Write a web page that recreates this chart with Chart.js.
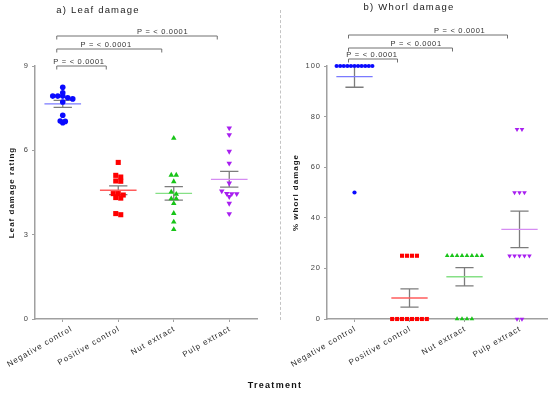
<!DOCTYPE html>
<html>
<head>
<meta charset="utf-8">
<script src="https://cdn.jsdelivr.net/npm/chart.js@4.4.1/dist/chart.umd.min.js"></script>
<style>
  body { margin: 0; background: #fff; }
  #wrap { position: relative; width: 550px; height: 394px; font-family: "Liberation Sans", Arial, sans-serif; }
  #leaf { position: absolute; left: 0; top: 0; }
  #whorl { position: absolute; left: 280px; top: 0; }
  #sep { position: absolute; left: 280px; top: 10px; height: 310px; border-left: 1px dashed #c4c4c4; }
  #xtitle { position: absolute; left: 0; top: 380px; width: 550px; text-align: center; font-size: 9px; line-height: 10px;
            font-weight: bold; letter-spacing: 1.3px; color: #111; }
</style>
</head>
<body>
<div id="wrap">
  <div id="sep"></div>
  <canvas id="leaf" width="275" height="394"></canvas>
  <canvas id="whorl" width="270" height="394"></canvas>
  <div id="xtitle">Treatment</div>
</div>
<script>
// valeurs
const categories = ['Negative control', 'Positive control', 'Nut extract', 'Pulp extract'];

const leafNegative = [8.24, 8.05, 7.93, 7.93, 7.93, 7.87, 7.83, 7.72, 7.25, 7.04, 7.03, 6.98];
const leafPositive = [5.57, 5.11, 5.05, 4.91, 4.90, 4.46, 4.46, 4.41, 4.32, 4.30, 3.75, 3.71];
const leafNut = [6.43, 5.12, 5.12, 4.89, 4.52, 4.44, 4.28, 4.28, 4.11, 3.76, 3.45, 3.19];
const leafPulp = [6.79, 6.55, 5.96, 5.54, 4.83, 4.55, 4.46, 4.45, 4.45, 4.35, 4.11, 3.74];
const leafMean = [7.65, 4.58, 4.47, 4.97];
const leafSem = [0.125, 0.155, 0.24, 0.28];
const leafTicks = [0, 3, 6, 9];

const whorlNegative = [100, 100, 100, 100, 100, 100, 100, 100, 100, 100, 100, 50];
const whorlPositive = [25, 25, 25, 25, 0, 0, 0, 0, 0, 0, 0, 0];
const whorlNut = [25, 25, 25, 25, 25, 25, 25, 25, 0, 0, 0, 0];
const whorlPulp = [75, 75, 50, 50, 50, 25, 25, 25, 25, 25, 0, 0];
const whorlMean = [95.8, 8.3, 16.7, 35.4];
const whorlSem = [4.2, 3.6, 3.6, 7.2];
const whorlTicks = [0, 20, 40, 60, 80, 100];

// comparaisons : témoin négatif contre chaque autre groupe
const comparisons = [[0, 1], [0, 2], [0, 3]];
const pLabels = ['P = < 0.0001', 'P = < 0.0001', 'P = < 0.0001'];

const pointColors = ['#0a0aff', '#ff0000', '#18c418', '#a81ff0'];
const meanColors = ['#7a7aff', '#ff5c5c', '#86e086', '#d58cf2'];

// nuage de points en colonnes (façon Prism) : points d'une même tranche étalés horizontalement
function swarm(values, center, bin, step, maxWidth) {
    const groups = {};
    values.forEach(v => {
        const k = Math.floor(v / bin + 1e-9);
        (groups[k] = groups[k] || []).push(v);
    });
    const pts = [];
    Object.values(groups).forEach(g => {
        const s = g.length > 1 ? Math.min(step, maxWidth / (g.length - 1)) : 0;
        g.forEach((v, i) => pts.push({ x: center + (i - (g.length - 1) / 2) * s, y: v }));
    });
    return pts;
}

const spacing = {
    id: 'spacing',
    beforeLayout(chart) { chart.ctx.letterSpacing = '1px'; },
    beforeDraw(chart) { chart.ctx.letterSpacing = '1px'; }
};

// décale la première étiquette de l'axe x pour qu'elle reste dans le cadre
const firstLabelShift = {
    id: 'firstLabelShift',
    beforeDraw(chart, args, o) {
        const items = chart.scales.x.getLabelItems(chart.chartArea);
        if (items.length && !items[0].shifted) {
            items[0].options.translation[0] += o.dx;
            items[0].shifted = true;
        }
    }
};

// moyenne +/- SEM
const meanSem = {
    id: 'meanSem',
    beforeDatasetsDraw(chart, args, o) {
        const { ctx, scales: { x, y } } = chart;
        ctx.save();
        o.mean.forEach((m, i) => {
            const cx = x.getPixelForValue(i);
            const half = x.getPixelForValue(i + 0.33) - cx;
            const cap = x.getPixelForValue(i + 0.165) - cx;
            const yTop = y.getPixelForValue(m + o.sem[i]);
            const yBot = y.getPixelForValue(m - o.sem[i]);
            ctx.strokeStyle = '#7c7c7c';
            ctx.lineWidth = 1.3;
            ctx.beginPath();
            ctx.moveTo(cx, yTop); ctx.lineTo(cx, yBot);
            ctx.moveTo(cx - cap, yTop); ctx.lineTo(cx + cap, yTop);
            ctx.moveTo(cx - cap, yBot); ctx.lineTo(cx + cap, yBot);
            ctx.stroke();
            const ym = y.getPixelForValue(m);
            ctx.strokeStyle = meanColors[i];
            ctx.lineWidth = 1.3;
            ctx.beginPath();
            ctx.moveTo(cx - half, ym); ctx.lineTo(cx + half, ym);
            ctx.stroke();
        });
        ctx.restore();
    }
};

// crochets de significativité au-dessus du graphique
const brackets = {
    id: 'brackets',
    afterDraw(chart, args, o) {
        const { ctx, chartArea, scales: { x } } = chart;
        ctx.save();
        ctx.letterSpacing = '0.7px';
        ctx.font = '7.5px "Liberation Sans", Arial, sans-serif';
        ctx.textAlign = 'center';
        ctx.textBaseline = 'alphabetic';
        comparisons.forEach(([a, b], k) => {
            const x0 = x.getPixelForValue(a) - 6;
            const x1 = x.getPixelForValue(b) - 12;
            const yy = chartArea.top - o.levels[k];
            ctx.strokeStyle = '#707070';
            ctx.lineWidth = 1;
            ctx.beginPath();
            ctx.moveTo(x0, yy + 3.5); ctx.lineTo(x0, yy); ctx.lineTo(x1, yy); ctx.lineTo(x1, yy + 3.5);
            ctx.stroke();
            ctx.fillStyle = '#333';
            ctx.fillText(pLabels[k], x0 + (x1 - x0) * o.textAt[k], yy - 2);
        });
        ctx.restore();
    }
};

const panelTitle = {
    id: 'panelTitle',
    afterDraw(chart, args, o) {
        const ctx = chart.ctx;
        ctx.save();
        ctx.letterSpacing = '1.2px';
        ctx.font = '9.5px "Liberation Sans", Arial, sans-serif';
        ctx.fillStyle = '#1a1a1a';
        ctx.textAlign = 'center';
        ctx.textBaseline = 'middle';
        ctx.fillText(o.text, o.x, o.y);
        ctx.restore();
    }
};

function makeChart(id, series, mean, sem, cfg) {
    const styles = ['circle', 'rect', 'triangle', 'triangle'];
    const datasets = series.map((vals, i) => ({
        data: swarm(vals, i, cfg.bin, cfg.step, cfg.maxWidth),
        pointStyle: styles[i],
        rotation: i === 3 ? 180 : 0,
        pointRadius: cfg.radius[i],
        pointBackgroundColor: pointColors[i],
        pointBorderColor: pointColors[i],
        pointBorderWidth: 0,
        showLine: false,
        clip: false
    }));
    return new Chart(document.getElementById(id), {
        type: 'scatter',
        data: { datasets },
        plugins: [spacing, firstLabelShift, meanSem, brackets, panelTitle],
        options: {
            responsive: false,
            animation: false,
            layout: { autoPadding: false, padding: { left: 0, top: 66, right: cfg.padRight, bottom: 0 } },
            plugins: {
                legend: { display: false },
                tooltip: { enabled: false },
                firstLabelShift: { dx: cfg.firstShift },
                meanSem: { mean, sem },
                brackets: { levels: cfg.levels, textAt: cfg.textAt },
                panelTitle: cfg.title
            },
            scales: {
                x: {
                    type: 'linear',
                    min: -0.5,
                    max: 3.5,
                    afterBuildTicks: s => { s.ticks = categories.map((c, i) => ({ value: i })); },
                    afterFit: s => { s.height = 75; s.paddingLeft = 0; s.paddingRight = 0; },
                    ticks: {
                        callback: v => categories[v],
                        minRotation: 30,
                        maxRotation: 30,
                        autoSkip: false,
                        padding: 2,
                        labelOffset: 1,
                        color: '#2a2a2a',
                        font: { size: 8, family: '"Liberation Sans", Arial, sans-serif' }
                    },
                    grid: { drawOnChartArea: false, drawTicks: true, tickLength: 3, color: '#a0a0a0' },
                    border: { color: '#a0a0a0', width: 1.5 }
                },
                y: {
                    min: 0,
                    max: cfg.yMax,
                    afterBuildTicks: s => { s.ticks = cfg.yTicks.map(v => ({ value: v })); },
                    afterFit: s => { s.width = cfg.yWidth; s.paddingTop = 0; s.paddingBottom = 0; },
                    ticks: {
                        padding: 3,
                        color: '#444',
                        font: { size: 7.5, family: '"Liberation Sans", Arial, sans-serif' }
                    },
                    grid: { drawOnChartArea: false, drawTicks: true, tickLength: 3, color: '#a0a0a0' },
                    border: { color: '#a0a0a0', width: 1.5 },
                    title: {
                        display: true,
                        text: cfg.yTitle,
                        color: '#1a1a1a',
                        padding: { top: cfg.titlePad, bottom: 0 },
                        font: { size: 8, weight: 'bold', family: '"Liberation Sans", Arial, sans-serif' }
                    }
                }
            }
        }
    });
}

makeChart('leaf', [leafNegative, leafPositive, leafNut, leafPulp], leafMean, leafSem, {
    bin: 0.2, step: 0.09, maxWidth: 0.5,
    radius: [2.8, 3.6, 3.2, 3.2],
    yMax: 9, yTicks: leafTicks, yWidth: 35, titlePad: 7, padRight: 18, firstShift: 8,
    yTitle: 'Leaf damage rating',
    levels: [0, 17, 30], textAt: [0.45, 0.47, 0.66],
    title: { text: 'a) Leaf damage', x: 98, y: 10 }
});

makeChart('whorl', [whorlNegative, whorlPositive, whorlNut, whorlPulp], whorlMean, whorlSem, {
    bin: 2, step: 0.09, maxWidth: 0.65,
    radius: [2.1, 2.9, 2.7, 2.7],
    yMax: 100, yTicks: whorlTicks, yWidth: 47, titlePad: 11, padRight: 3, firstShift: 0,
    yTitle: '% whorl damage',
    levels: [7, 18, 31], textAt: [0.48, 0.65, 0.70],
    title: { text: 'b) Whorl damage', x: 129, y: 7 }
});
</script>
</body>
</html>
